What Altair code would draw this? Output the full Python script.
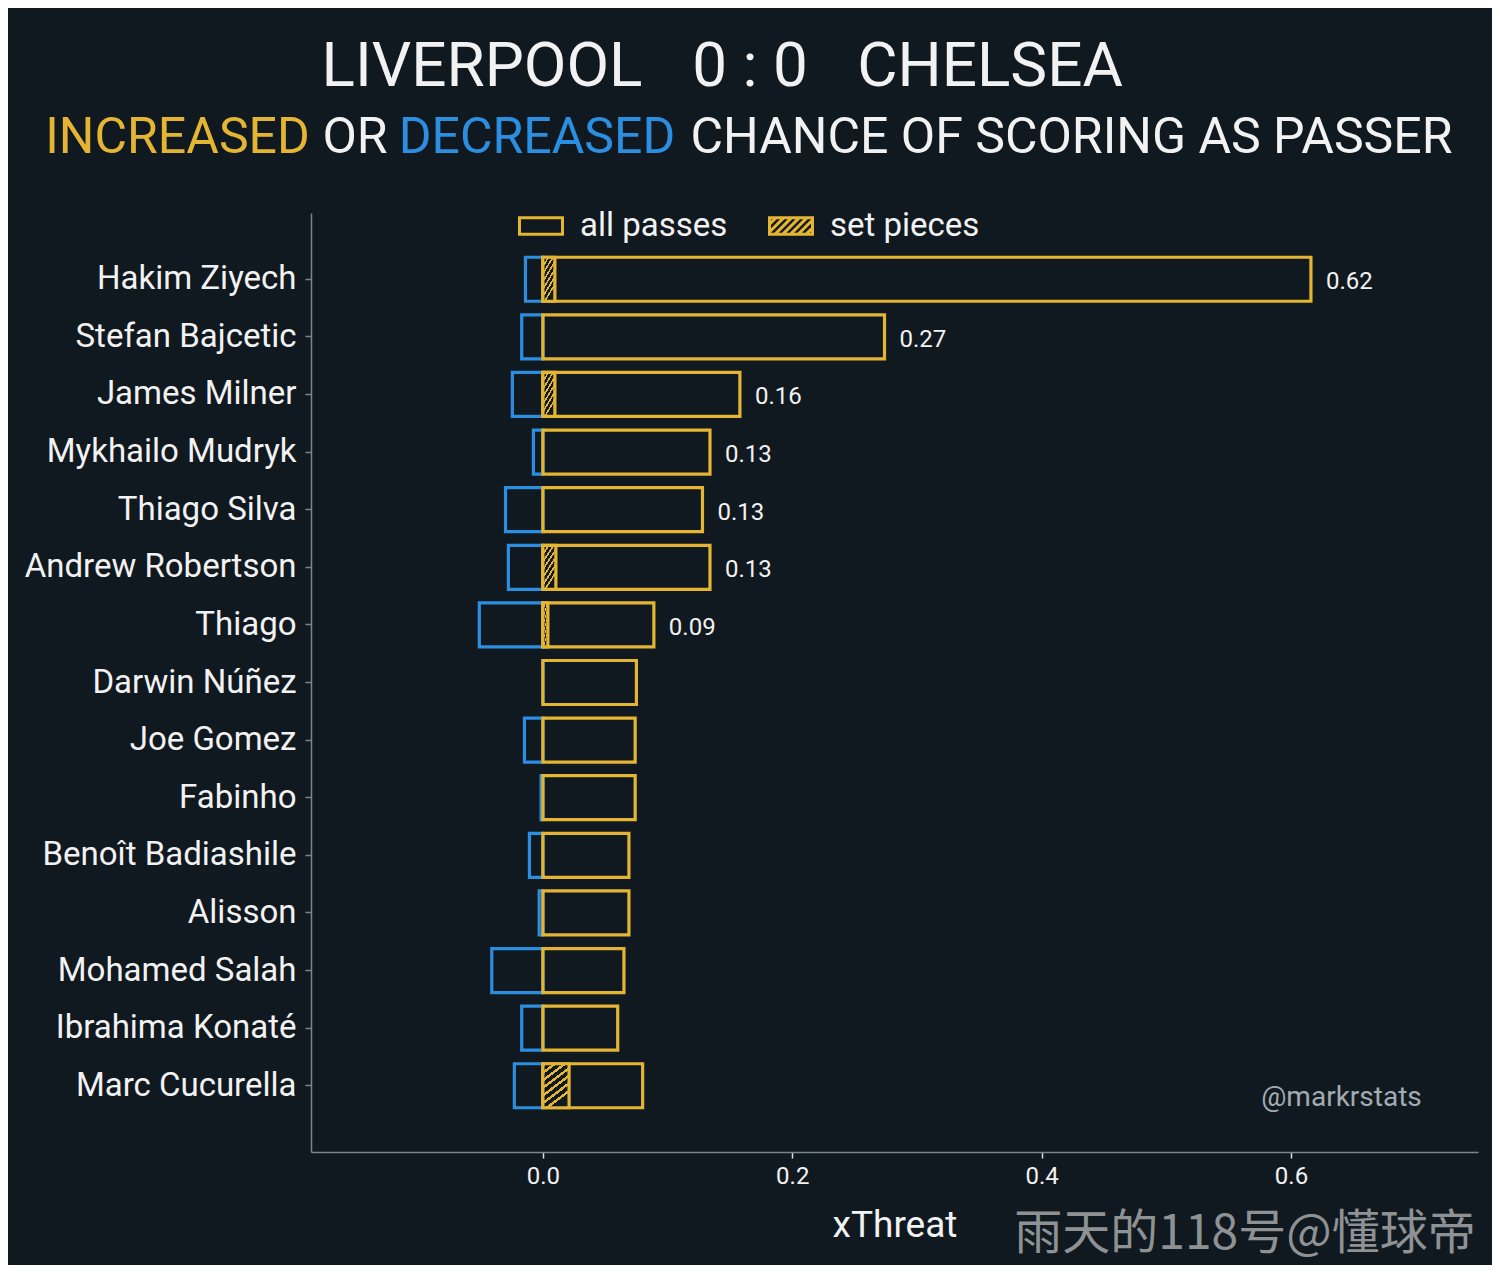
import altair as alt
import pandas as pd
import numpy as np

# ---------------- data ----------------
players = ["Hakim Ziyech", "Stefan Bajcetic", "James Milner", "Mykhailo Mudryk",
           "Thiago Silva", "Andrew Robertson", "Thiago", "Darwin Núñez",
           "Joe Gomez", "Fabinho", "Benoît Badiashile", "Alisson",
           "Mohamed Salah", "Ibrahima Konaté", "Marc Cucurella"]
all_pos = [0.616, 0.274, 0.158, 0.134, 0.128, 0.134, 0.089, 0.075,
           0.074, 0.074, 0.069, 0.069, 0.065, 0.060, 0.080]
all_neg = [-0.014, -0.017, -0.0245, -0.0076, -0.030, -0.0277, -0.051, 0.0,
           -0.0148, -0.0015, -0.0108, -0.003, -0.041, -0.017, -0.0229]
set_pos = [0.0096, 0.0, 0.0096, 0.0, 0.0, 0.0104, 0.004, 0.0,
           0.0, 0.0, 0.0, 0.0, 0.0, 0.0, 0.021]
legend_kinds = ["all passes", "set pieces"]
x_ticks = [0.0, 0.2, 0.4, 0.6]

df = pd.DataFrame({"player": players, "all_pos": all_pos,
                   "all_neg": all_neg, "set_pos": set_pos})
legend_df = pd.DataFrame({"kind": legend_kinds})
one = pd.DataFrame({"k": [0]})

# ---------------- style ----------------
BG = "#111920"
YELLOW = "#e4b532"
BLUE = "#2b8ee0"
WHITE = "#f2f2f2"
GRAY = "#7b858d"
FONT = "Roboto"
SW = 3.2

# striped gradient imitating a hatch
n = 7
stops = []
for i in range(n):
    a = i / n
    b = (i + 0.4) / n
    c = (i + 1) / n
    stops += [alt.GradientStop(offset=a, color=YELLOW),
              alt.GradientStop(offset=b, color=YELLOW),
              alt.GradientStop(offset=b, color=BG),
              alt.GradientStop(offset=c, color=BG)]
hatch = alt.Gradient(gradient="linear", stops=stops, x1=0, y1=0, x2=0.45, y2=1)

# legend symbol paths
h = 0.38
rect_path = f"M-1,-{h}H1V{h}H-1Z"
parts = [rect_path]
for k in np.arange(-1.08, 1.09, 0.36):
    y_lo = max(-h, k - 1)
    y_hi = min(h, k + 1)
    if y_hi - y_lo < 0.05:
        continue
    parts.append(f"M{k - y_hi:.3f},{y_hi:.3f}L{k - y_lo:.3f},{y_lo:.3f}")
hatch_path = "".join(parts)

XS = alt.Scale(domain=[-0.186, 0.75], nice=False, zero=False)
YS = alt.Scale(paddingInner=0.236, paddingOuter=0.768)

X_AX = alt.Axis(values=x_ticks, format=".1f", labelFontSize=24, labelColor=WHITE,
                tickColor="#d8d8d8", tickSize=6, tickWidth=1.5, domainColor=GRAY,
                domainWidth=1.5, title="xThreat", titleFontSize=37,
                titleColor=WHITE, titleFontWeight="normal", labelPadding=6,
                titlePadding=19, grid=False, labelFont=FONT, titleFont=FONT)
Y_AX = alt.Axis(title=None, labelFontSize=33, labelColor=WHITE, tickColor=GRAY,
                tickSize=6, tickWidth=1.5, labelPadding=9, domainColor=GRAY,
                domainWidth=1.5, grid=False, labelFont=FONT, labelLimit=400)

Y = alt.Y("player:N", sort=players, scale=YS, axis=Y_AX)

neg = alt.Chart().mark_bar(fill=BG, fillOpacity=0, stroke=BLUE, strokeWidth=SW).encode(
    x=alt.X("all_neg:Q", scale=XS, axis=X_AX), x2=alt.datum(0), y=Y)

pos = alt.Chart().mark_bar(fill=BG, fillOpacity=0, stroke=YELLOW, strokeWidth=SW).encode(
    x=alt.X("all_pos:Q", scale=XS, axis=X_AX), x2=alt.datum(0), y=Y)

sp = alt.Chart().transform_filter("datum.set_pos > 0").mark_bar(
    fill=hatch, stroke=YELLOW, strokeWidth=SW).encode(
    x=alt.X("set_pos:Q", scale=XS, axis=X_AX), x2=alt.datum(0), y=Y)

labels = alt.Chart().transform_filter("datum.all_pos > 0.085").mark_text(
    align="left", baseline="middle", dx=15, dy=3, fontSize=24, color=WHITE, font=FONT
).encode(x=alt.X("all_pos:Q", scale=XS, axis=X_AX), y=Y,
         text=alt.Text("all_pos:Q", format=".2f"))

legend_pts = alt.Chart(legend_df).transform_filter("false").mark_point(
    filled=False, stroke=YELLOW, strokeWidth=3, opacity=1).encode(
    shape=alt.Shape("kind:N",
                    scale=alt.Scale(domain=legend_kinds, range=[rect_path, hatch_path]),
                    legend=alt.Legend(title=None, orient="none", legendX=207, legendY=-10,
                                      direction="horizontal", labelFontSize=33,
                                      labelColor=WHITE, labelFont=FONT,
                                      symbolSize=1849, symbolStrokeWidth=3,
                                      symbolStrokeColor=YELLOW, symbolFillColor=BG,
                                      symbolOpacity=1,
                                      labelOffset=16, columnPadding=35)))


def txt(s, x, y, size, color, font=FONT, opacity=1.0):
    return alt.Chart(one).mark_text(text=s, align="center", baseline="alphabetic",
                                    fontSize=size, color=color, font=font,
                                    opacity=opacity).encode(
        x=alt.value(x), y=alt.value(y))


texts = [
    txt("LIVERPOOL", 171, -127, 62, WHITE),
    txt("0 : 0", 439, -127, 62, WHITE),
    txt("CHELSEA", 679, -127, 62, WHITE),
    txt("INCREASED", -133.5, -60, 50, YELLOW),
    txt("OR", 44, -60, 50, WHITE),
    txt("DECREASED", 226, -60, 50, BLUE),
    txt("CHANCE OF SCORING AS PASSER", 760.5, -60, 50, WHITE),
    txt("@markrstats", 1030.5, 893, 28, "#a3abb1"),
    txt("雨天的118号@懂球帝", 934, 1036, 48, "#8e9295", font="Noto Sans CJK SC"),
]

chart = alt.layer(neg, pos, sp, labels, legend_pts, *texts, data=df).properties(
    width=1167, height=939,
    autosize=alt.AutoSizeParams(type="none"),
    padding={"left": 303, "top": 205, "right": 14, "bottom": 113},
    background=BG,
).configure(font=FONT, view=alt.ViewConfig(stroke="transparent", strokeWidth=0))

chart.save("out.html", embed_options={"renderer": "svg", "actions": False})
